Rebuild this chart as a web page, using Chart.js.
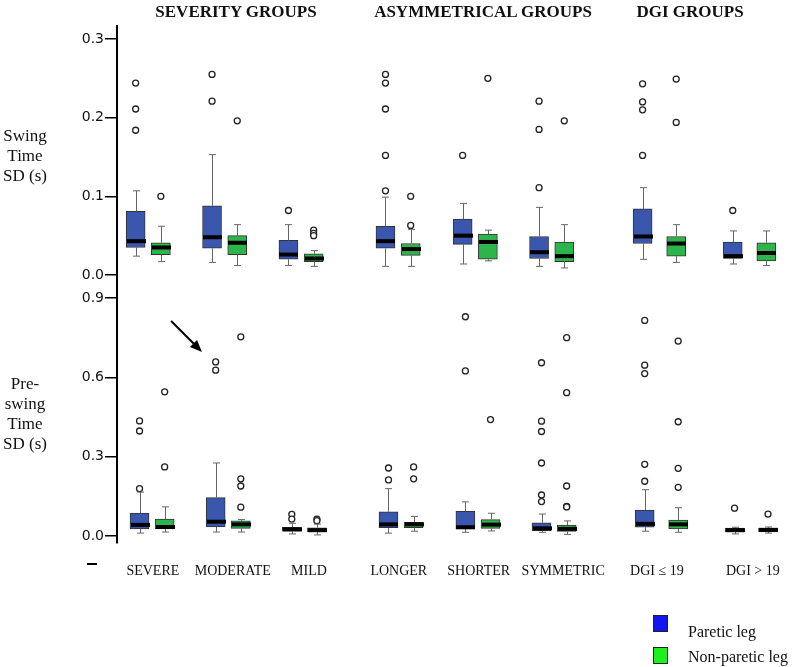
<!DOCTYPE html>
<html>
<head>
<meta charset="utf-8">
<script src="https://cdn.jsdelivr.net/npm/chart.js@4.4.0/dist/chart.umd.min.js"></script>
<style>
  body { margin: 0; background: #fff; }
  #wrap { position: relative; width: 800px; height: 667px; font-family: 'Liberation Serif', serif; color: #111; }
  #wrap canvas { position: absolute; left: 0; top: 0; }
  .head { position: absolute; top: 2px; font-weight: bold; font-size: 17px; transform: translateX(-50%); white-space: nowrap; }
  .ytitle { position: absolute; left: -5px; width: 60px; text-align: center; font-size: 17px; line-height: 20px; }
  .dash { position: absolute; left: 87px; top: 563px; width: 10px; height: 2px; background: #000; }
  .key { position: absolute; left: 653px; width: 13px; height: 15px; border: 1px solid #222; }
  .keytext { position: absolute; left: 688px; font-size: 16px; white-space: nowrap; }
</style>
</head>
<body>
<div id="wrap">
  <canvas id="top" width="800" height="667"></canvas>
  <canvas id="bottom" width="800" height="667"></canvas>
  <div class="head" style="left:236px">SEVERITY GROUPS</div>
  <div class="head" style="left:483px">ASYMMETRICAL GROUPS</div>
  <div class="head" style="left:690px">DGI GROUPS</div>
  <div class="ytitle" style="top:126px">Swing<br>Time<br>SD (s)</div>
  <div class="ytitle" style="top:374px">Pre-<br>swing<br>Time<br>SD (s)</div>
  <div class="dash"></div>
  <div class="key" style="top:615px; background:#1414f0"></div>
  <div class="key" style="top:647px; background:#1ef01e"></div>
  <div class="keytext" style="top:623px">Paretic leg</div>
  <div class="keytext" style="top:648px">Non-paretic leg</div>
</div>
<script>
const groups = ['SEVERE', 'MODERATE', 'MILD', 'LONGER', 'SHORTER', 'SYMMETRIC', 'DGI \u2264 19', 'DGI > 19'];
const swingTicks = [0, 0.1, 0.2, 0.3];
const preTicks = [0, 0.3, 0.6, 0.9];

// swing time SD, paretic leg
const swingParLow = [0.024, 0.016, 0.012, 0.011, 0.014, 0.011, 0.020, 0.014];
const swingParQ1 = [0.035, 0.034, 0.020, 0.034, 0.039, 0.021, 0.040, 0.021];
const swingParMed = [0.043, 0.048, 0.026, 0.043, 0.050, 0.029, 0.049, 0.024];
const swingParQ3 = [0.081, 0.088, 0.044, 0.062, 0.071, 0.049, 0.084, 0.042];
const swingParHigh = [0.107, 0.153, 0.064, 0.099, 0.091, 0.086, 0.111, 0.056];
const swingParOut = [[0.244, 0.211, 0.184], [0.255, 0.221], [0.082], [0.255, 0.244, 0.211, 0.152, 0.107], [0.152], [0.221, 0.185, 0.111], [0.243, 0.220, 0.210, 0.152], [0.082]];

// swing time SD, non-paretic leg
const swingNonLow = [0.017, 0.012, 0.011, 0.011, 0.018, 0.009, 0.016, 0.012];
const swingNonQ1 = [0.026, 0.026, 0.017, 0.025, 0.020, 0.017, 0.024, 0.018];
const swingNonMed = [0.035, 0.041, 0.021, 0.033, 0.042, 0.024, 0.040, 0.028];
const swingNonQ3 = [0.041, 0.050, 0.027, 0.040, 0.052, 0.042, 0.049, 0.041];
const swingNonHigh = [0.062, 0.064, 0.031, 0.058, 0.057, 0.064, 0.064, 0.056];
const swingNonOut = [[0.100], [0.196], [0.057, 0.053, 0.050], [0.100, 0.063], [0.250], [0.196], [0.249, 0.194], []];

// pre-swing time SD, paretic leg
const preParLow = [0.011, 0.015, 0.008, 0.011, 0.014, 0.014, 0.018, 0.008];
const preParQ1 = [0.027, 0.034, 0.018, 0.031, 0.027, 0.020, 0.033, 0.016];
const preParMed = [0.042, 0.054, 0.025, 0.044, 0.033, 0.029, 0.046, 0.022];
const preParQ3 = [0.087, 0.145, 0.033, 0.091, 0.093, 0.050, 0.098, 0.030];
const preParHigh = [0.166, 0.276, 0.048, 0.179, 0.129, 0.083, 0.175, 0.033];
const preParOut = [[0.435, 0.397, 0.179], [0.658, 0.627], [0.082, 0.064], [0.257, 0.212], [0.829, 0.624], [0.655, 0.434, 0.395, 0.276, 0.155, 0.130], [0.815, 0.646, 0.614, 0.271, 0.207], [0.105]];

// pre-swing time SD, non-paretic leg
const preNonLow = [0.015, 0.015, 0.004, 0.018, 0.019, 0.006, 0.014, 0.011];
const preNonQ1 = [0.027, 0.029, 0.016, 0.031, 0.029, 0.017, 0.027, 0.015];
const preNonMed = [0.034, 0.044, 0.022, 0.044, 0.043, 0.027, 0.044, 0.023];
const preNonQ3 = [0.064, 0.057, 0.031, 0.052, 0.062, 0.041, 0.060, 0.030];
const preNonHigh = [0.110, 0.062, 0.045, 0.074, 0.086, 0.057, 0.107, 0.034];
const preNonOut = [[0.545, 0.261], [0.753, 0.216, 0.189, 0.109], [0.064, 0.058], [0.261, 0.216], [0.440], [0.750, 0.542, 0.189, 0.112, 0.110], [0.737, 0.432, 0.256, 0.184], [0.083]];

// layout: where each group sits on the x scale, how far apart its two legs are,
// and where its name is written under the lower panel
const groupPos = [0, 1, 2, 3.27, 4.28, 5.28, 6.69, 7.87];
const halfGap = [0.165, 0.165, 0.165, 0.165, 0.165, 0.165, 0.22, 0.22];
const labelPos = [0.01, 1.06, 2.06, 3.24, 4.29, 5.40, 6.63, 7.89];

const BLUE = '#3a56ad';
const GREEN = '#2db54b';

function legX(i, side) {
  return groupPos[i] + side * halfGap[i];
}

function boxSeries(q1, q3, side, color) {
  return {
    type: 'bar',
    data: q1.map((v, i) => ({ x: legX(i, side), y: [v, q3[i]] })),
    backgroundColor: color,
    borderColor: '#333',
    borderWidth: 1,
    borderSkipped: false,
    barThickness: 19,
    grouped: false,
    order: 2
  };
}

function outlierSeries(out, side) {
  const pts = [];
  out.forEach((list, i) => list.forEach(v => pts.push({ x: legX(i, side), y: v })));
  return {
    type: 'scatter',
    data: pts,
    pointRadius: 3,
    pointBackgroundColor: '#fff',
    pointBorderColor: '#222',
    pointBorderWidth: 1.3,
    order: 1
  };
}

function whiskerPlugin(series) {
  return {
    id: 'whiskers',
    afterDatasetsDraw(chart) {
      const { ctx, scales: { x, y } } = chart;
      ctx.save();
      series.forEach(s => {
        s.med.forEach((m, i) => {
          const cx = Math.round(x.getPixelForValue(legX(i, s.side))) + 0.5;
          const yl = y.getPixelForValue(s.low[i]);
          const y1 = y.getPixelForValue(s.q1[i]);
          const y3 = y.getPixelForValue(s.q3[i]);
          const yh = y.getPixelForValue(s.high[i]);
          ctx.strokeStyle = '#666';
          ctx.lineWidth = 1;
          ctx.beginPath();
          ctx.moveTo(cx, y3); ctx.lineTo(cx, yh);
          ctx.moveTo(cx, y1); ctx.lineTo(cx, yl);
          ctx.moveTo(cx - 3.5, yh); ctx.lineTo(cx + 3.5, yh);
          ctx.moveTo(cx - 3.5, yl); ctx.lineTo(cx + 3.5, yl);
          ctx.stroke();
          const ym = y.getPixelForValue(m);
          ctx.strokeStyle = '#000';
          ctx.lineWidth = 4;
          ctx.beginPath();
          ctx.moveTo(cx - 9.5, ym); ctx.lineTo(cx + 9.5, ym);
          ctx.stroke();
        });
      });
      ctx.restore();
    }
  };
}

const arrowPlugin = {
  id: 'arrow',
  afterDraw(chart) {
    const { ctx, scales: { x, y } } = chart;
    const x0 = x.getPixelForValue(groupPos[1] - 0.75), y0 = y.getPixelForValue(0.813);
    const x1 = x.getPixelForValue(groupPos[1] - 0.345), y1 = y.getPixelForValue(0.696);
    const a = Math.atan2(y1 - y0, x1 - x0);
    ctx.save();
    ctx.strokeStyle = '#000';
    ctx.fillStyle = '#000';
    ctx.lineWidth = 2;
    ctx.beginPath();
    ctx.moveTo(x0, y0);
    ctx.lineTo(x1 - 8 * Math.cos(a), y1 - 8 * Math.sin(a));
    ctx.stroke();
    ctx.beginPath();
    ctx.moveTo(x1, y1);
    ctx.lineTo(x1 - 12 * Math.cos(a) + 5 * Math.sin(a), y1 - 12 * Math.sin(a) - 5 * Math.cos(a));
    ctx.lineTo(x1 - 12 * Math.cos(a) - 5 * Math.sin(a), y1 - 12 * Math.sin(a) + 5 * Math.cos(a));
    ctx.closePath();
    ctx.fill();
    ctx.restore();
  }
};

function yScale(min, max, ticks) {
  return {
    type: 'linear',
    position: 'left',
    min: min,
    max: max,
    afterFit(s) { s.width = 117; },
    afterBuildTicks(s) { s.ticks = ticks.map(v => ({ value: v })); },
    border: { display: true, color: '#000', width: 2 },
    grid: { drawOnChartArea: false, drawTicks: true, tickLength: 12, color: '#000', lineWidth: 1.5 },
    ticks: {
      padding: 1,
      color: '#111',
      font: { family: 'DejaVu Sans', size: 14 },
      callback: v => v.toFixed(1)
    }
  };
}

new Chart(document.getElementById('top'), {
  type: 'bar',
  data: {
    datasets: [
      boxSeries(swingParQ1, swingParQ3, -1, BLUE),
      boxSeries(swingNonQ1, swingNonQ3, 1, GREEN),
      outlierSeries(swingParOut, -1),
      outlierSeries(swingNonOut, 1)
    ]
  },
  options: {
    responsive: false,
    animation: false,
    layout: { padding: { top: 26, bottom: 382, left: 0, right: 0 } },
    plugins: { legend: { display: false }, tooltip: { enabled: false } },
    scales: {
      x: { type: 'linear', min: -0.409, max: 8.461, offset: false, display: false },
      y: yScale(-0.0127, 0.3165, swingTicks)
    }
  },
  plugins: [whiskerPlugin([
    { low: swingParLow, q1: swingParQ1, med: swingParMed, q3: swingParQ3, high: swingParHigh, side: -1 },
    { low: swingNonLow, q1: swingNonQ1, med: swingNonMed, q3: swingNonQ3, high: swingNonHigh, side: 1 }
  ])]
});

new Chart(document.getElementById('bottom'), {
  type: 'bar',
  data: {
    datasets: [
      boxSeries(preParQ1, preParQ3, -1, BLUE),
      boxSeries(preNonQ1, preNonQ3, 1, GREEN),
      outlierSeries(preParOut, -1),
      outlierSeries(preNonOut, 1)
    ]
  },
  options: {
    responsive: false,
    animation: false,
    layout: { padding: { top: 285, bottom: 84, left: 0, right: 0 } },
    plugins: { legend: { display: false }, tooltip: { enabled: false } },
    scales: {
      x: {
        type: 'linear',
        min: -0.461,
        max: 8.409,
        offset: false,
        afterFit(s) { s.height = 40; },
        afterBuildTicks(s) { s.ticks = labelPos.map(v => ({ value: v })); },
        grid: { display: false, drawTicks: false },
        border: { display: false },
        ticks: {
          autoSkip: false,
          maxRotation: 0,
          padding: 20,
          color: '#111',
          font: { family: 'Liberation Serif', size: 14 },
          callback: (v, i) => groups[i]
        }
      },
      y: yScale(-0.0265, 0.949, preTicks)
    }
  },
  plugins: [whiskerPlugin([
    { low: preParLow, q1: preParQ1, med: preParMed, q3: preParQ3, high: preParHigh, side: -1 },
    { low: preNonLow, q1: preNonQ1, med: preNonMed, q3: preNonQ3, high: preNonHigh, side: 1 }
  ]), arrowPlugin]
});
</script>
</body>
</html>
